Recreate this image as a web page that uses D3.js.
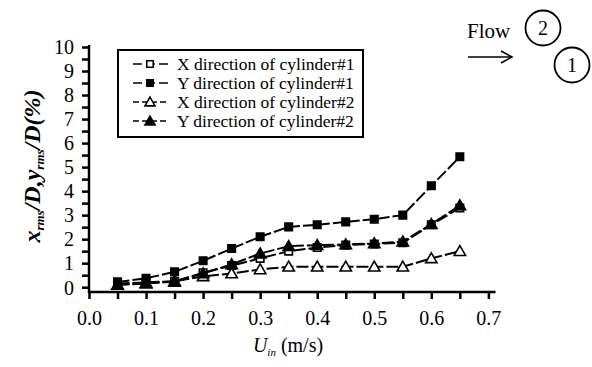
<!DOCTYPE html>
<html>
<head>
<meta charset="utf-8">
<script src="https://cdn.jsdelivr.net/npm/d3@7"></script>
<style>
  body { margin: 0; background: #fff; }
</style>
</head>
<body>
<svg id="chart" width="592" height="367"></svg>
<script>
const velocities = [0.05, 0.10, 0.15, 0.20, 0.25, 0.30, 0.35, 0.40, 0.45, 0.50, 0.55, 0.60, 0.65];
const xCyl1 = [0.15, 0.20, 0.25, 0.60, 0.90, 1.20, 1.50, 1.65, 1.75, 1.80, 1.85, 2.60, 3.30];
const yCyl1 = [0.22, 0.37, 0.64, 1.10, 1.61, 2.10, 2.51, 2.60, 2.72, 2.83, 3.00, 4.22, 5.43];
const xCyl2 = [0.10, 0.15, 0.25, 0.45, 0.57, 0.74, 0.85, 0.85, 0.85, 0.85, 0.85, 1.20, 1.50];
const yCyl2 = [0.10, 0.18, 0.22, 0.57, 0.95, 1.40, 1.71, 1.75, 1.78, 1.82, 1.90, 2.62, 3.40];
const seriesNames = ["X direction of cylinder#1", "Y direction of cylinder#1", "X direction of cylinder#2", "Y direction of cylinder#2"];
const xTickLabels = [0.0, 0.1, 0.2, 0.3, 0.4, 0.5, 0.6, 0.7];
const yTickLabels = [0, 1, 2, 3, 4, 5, 6, 7, 8, 9, 10];

const FONT = "Liberation Serif";
const series = [
  { name: seriesNames[0], values: xCyl1, shape: "square", filled: false },
  { name: seriesNames[1], values: yCyl1, shape: "square", filled: true },
  { name: seriesNames[2], values: xCyl2, shape: "triangle", filled: false },
  { name: seriesNames[3], values: yCyl2, shape: "triangle", filled: true }
];

const svg = d3.select("#chart");
const x = d3.scaleLinear().domain([0, 0.7125]).range([89, 495.5]);
const y = d3.scaleLinear().domain([-0.2, 10]).range([292, 47]);

function txt(sel) { return sel.style("font-family", FONT); }

// Y axis
const yAxis = d3.axisLeft(y)
  .tickValues(d3.range(0, 10.01, 0.5))
  .tickSize(7).tickPadding(8)
  .tickFormat(d => yTickLabels.includes(d) ? d3.format("d")(d) : "");
const gy = svg.append("g").attr("transform", "translate(89,0)").call(yAxis);
gy.select(".domain").remove();
gy.selectAll(".tick line").attr("stroke", "#000").attr("stroke-width", 2.5);
txt(gy.selectAll(".tick text")).attr("font-size", 20).attr("fill", "#000").attr("dy", "0.34em");
svg.append("line").attr("x1", 89).attr("x2", 89).attr("y1", 45).attr("y2", 293)
  .attr("stroke", "#000").attr("stroke-width", 2.5);

// X axis
const xAxis = d3.axisBottom(x)
  .tickValues(d3.range(0, 0.7001, 0.05))
  .tickSize(7).tickPadding(6)
  .tickFormat(d => {
    const r = Math.round(d * 100);
    return r % 10 === 0 ? d3.format(".1f")(xTickLabels[r / 10]) : "";
  });
const gx = svg.append("g").attr("transform", "translate(0,292)").call(xAxis);
gx.select(".domain").remove();
gx.selectAll(".tick line").attr("stroke", "#000").attr("stroke-width", 2.5);
txt(gx.selectAll(".tick text")).attr("font-size", 20).attr("fill", "#000")
  .attr("y", 33).attr("dy", null);
svg.append("line").attr("x1", 88).attr("x2", x(0.7125)).attr("y1", 292).attr("y2", 292)
  .attr("stroke", "#000").attr("stroke-width", 2.5);

// Lines
const line = d3.line().x((d, i) => x(velocities[i])).y(d => y(d));
const sqSym = d3.symbol().type(d3.symbolSquare).size(56);
const triSym = d3.symbol().type(d3.symbolTriangle).size(56);

series.forEach(s => {
  svg.append("path").datum(s.values)
    .attr("d", line)
    .attr("fill", "none").attr("stroke", "#000").attr("stroke-width", 2)
    .attr("stroke-dasharray", "12,3");
});
series.forEach(s => {
  svg.append("g").selectAll("path").data(s.values).join("path")
    .attr("d", s.shape === "square" ? sqSym() : triSym())
    .attr("transform", (d, i) => `translate(${x(velocities[i])},${y(d) + (s.shape === "triangle" ? 1 : 0)})`)
    .attr("fill", s.filled ? "#000" : "#fff")
    .attr("stroke", "#000").attr("stroke-width", 1.6);
});

// Legend
const lg = svg.append("g");
lg.append("rect").attr("x", 118).attr("y", 50).attr("width", 245).attr("height", 87)
  .attr("fill", "#fff").attr("stroke", "#000").attr("stroke-width", 2);
series.forEach((s, i) => {
  const cy = 64 + i * 19;
  lg.append("line").attr("x1", 133).attr("x2", 168).attr("y1", cy).attr("y2", cy)
    .attr("stroke", "#000").attr("stroke-width", 1.5)
    .attr("stroke-dasharray", i >= 2 ? "6,3" : "9,4");
  lg.append("path").attr("d", s.shape === "square" ? d3.symbol().type(d3.symbolSquare).size(42)() : d3.symbol().type(d3.symbolTriangle).size(44)())
    .attr("transform", `translate(150,${cy + (s.shape === "triangle" ? 1 : 0)})`)
    .attr("fill", s.filled ? "#000" : "#fff").attr("stroke", "#000").attr("stroke-width", 1.6);
  txt(lg.append("text")).attr("x", 177).attr("y", cy + 6)
    .attr("font-size", 17.5).text(s.name);
});

// Axis titles
const yt = txt(svg.append("text"))
  .attr("transform", "translate(40,166) rotate(-90)")
  .attr("text-anchor", "middle")
  .attr("font-size", 24).attr("font-style", "italic").attr("font-weight", "bold");
yt.append("tspan").text("x");
yt.append("tspan").attr("font-size", 13).attr("dy", 4).text("rms");
yt.append("tspan").attr("dy", -4).text("/D,y");
yt.append("tspan").attr("font-size", 13).attr("dy", 4).text("rms");
yt.append("tspan").attr("dy", -4).text("/D(%)");

const xt = txt(svg.append("text")).attr("x", 288).attr("y", 352).attr("text-anchor", "middle")
  .attr("font-size", 20);
xt.append("tspan").attr("font-style", "italic").text("U");
xt.append("tspan").attr("font-style", "italic").attr("font-size", 11).attr("dy", 4).text("in");
xt.append("tspan").attr("dy", -4).text(" (m/s)");

// Flow annotation
txt(svg.append("text")).attr("x", 467).attr("y", 38).attr("font-size", 21).text("Flow");
svg.append("line").attr("x1", 468).attr("x2", 511).attr("y1", 57).attr("y2", 57)
  .attr("stroke", "#000").attr("stroke-width", 1.6);
svg.append("path").attr("d", "M501,51 L512,57 L501,63").attr("fill", "none")
  .attr("stroke", "#000").attr("stroke-width", 1.6);
[{ cx: 543, cy: 28, label: "2" }, { cx: 572, cy: 65, label: "1" }].forEach(c => {
  svg.append("circle").attr("cx", c.cx).attr("cy", c.cy).attr("r", 17.5)
    .attr("fill", "none").attr("stroke", "#000").attr("stroke-width", 1.8);
  txt(svg.append("text")).attr("x", c.cx).attr("y", c.cy + 7)
    .attr("text-anchor", "middle").attr("font-size", 20).text(c.label);
});
</script>
</body>
</html>
